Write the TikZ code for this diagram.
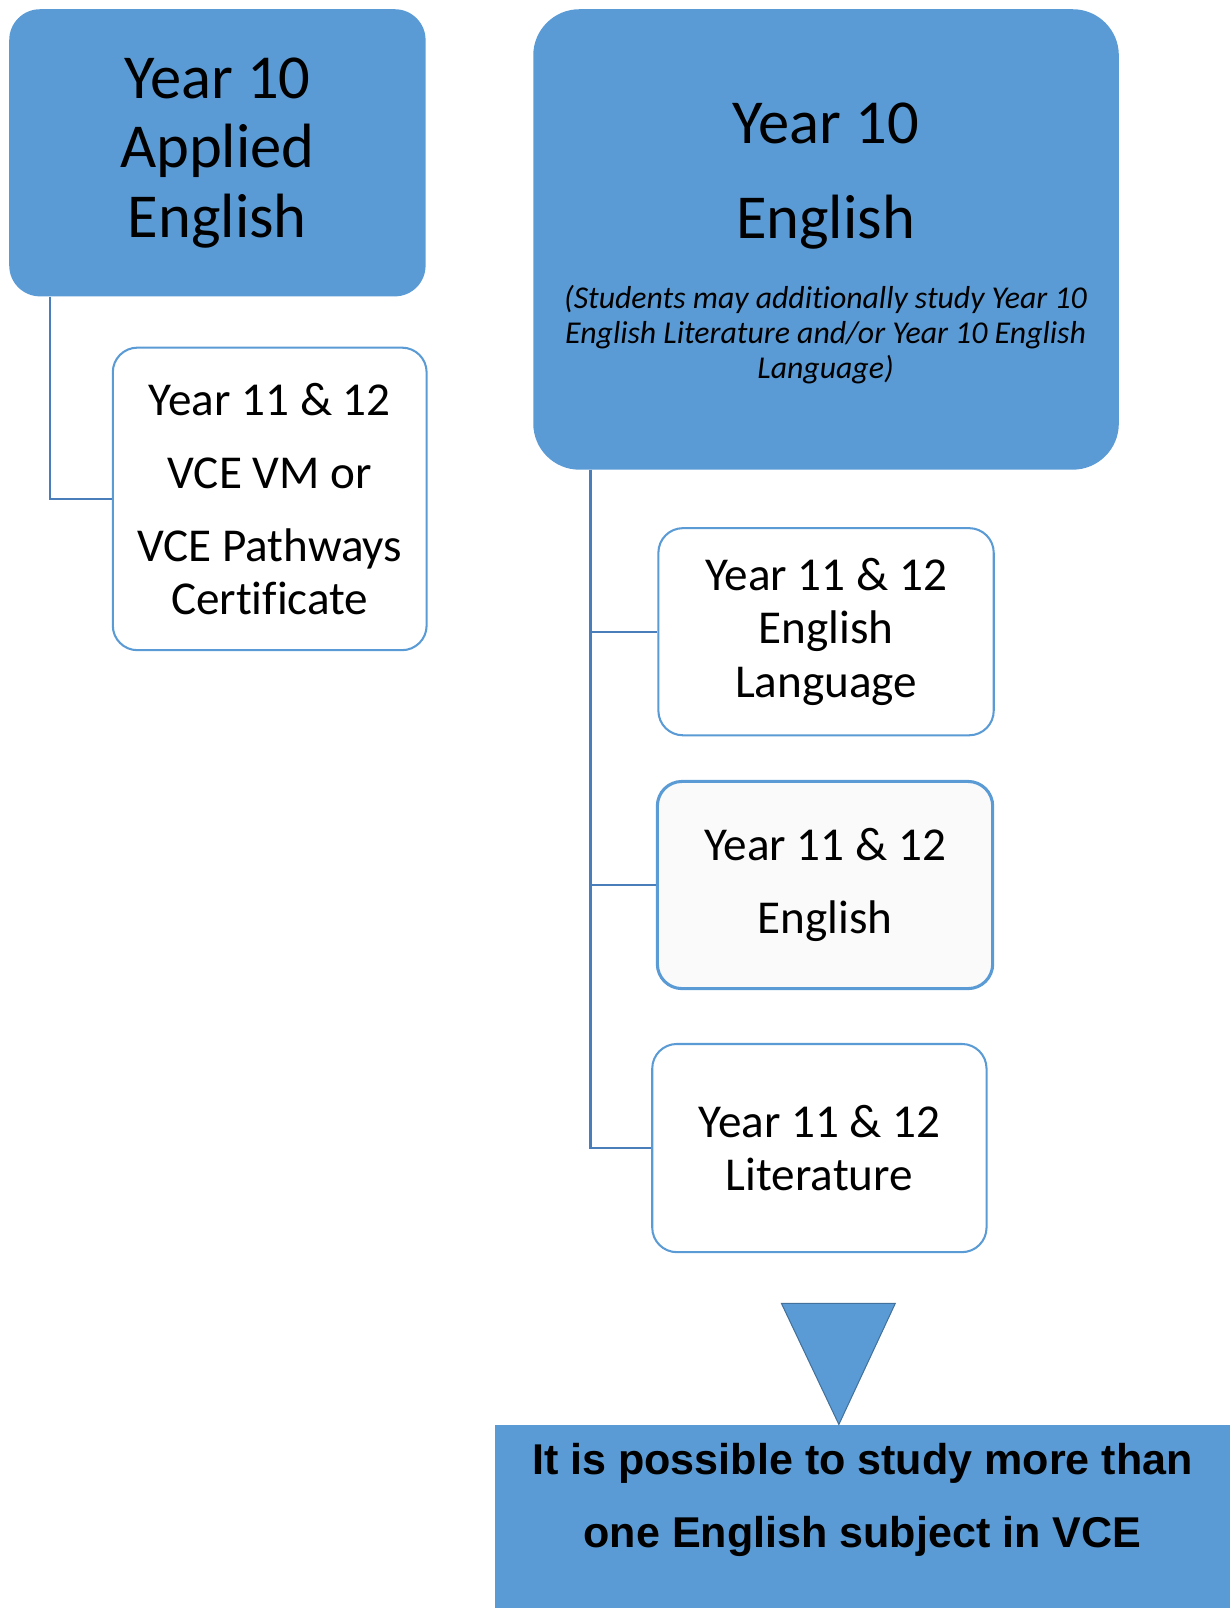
\documentclass[tikz,border=0pt]{standalone}
\usepackage{fontspec}
\setmainfont{Carlito}[Ligatures=NoCommon]
\newfontfamily\arialfont{Liberation Sans}
\usetikzlibrary{positioning,calc}
\definecolor{boxblue}{HTML}{5B9BD5}
\definecolor{linkblue}{HTML}{4A7EBB}
\definecolor{edgeblue}{HTML}{41719C}
\newcommand{\bigfont}{\fontsize{61}{68}\selectfont}
\newcommand{\midfont}{\fontsize{46}{52}\selectfont}
\newcommand{\notefont}{\fontsize{31}{34}\selectfont\itshape}

\begin{document}
\begin{tikzpicture}[
    x=1pt, y=-1pt,
    year/.style={rectangle, rounded corners=30pt, fill=boxblue, draw=none, align=center, font=\bigfont, inner sep=0pt},
    vce/.style={rectangle, rounded corners=24pt, fill=white, draw=boxblue, line width=2pt, align=center, font=\midfont, inner sep=0pt, minimum width=327pt, minimum height=202pt},
    link/.style={draw=linkblue, line width=2pt}
]
    \useasboundingbox (0,0) rectangle (1199,1568);

    % Year 10 boxes
    \node[year, minimum width=406pt, minimum height=280pt, text depth=10pt] (app10) at (212,149) {Year 10\\Applied\\English};
    \node[year, rounded corners=45pt, minimum width=571pt, minimum height=449pt] (eng10) at (805.5,233.5) {};
    \node[font=\bigfont, align=center, inner sep=0pt] (eng10t) at (805,172) {Year 10\\[25pt]English};
    \node[font=\notefont, align=center, inner sep=0pt] (eng10n) at (805,326) {(Students may additionally study Year 10\\English Literature and/or Year 10 English\\Language)};

    % Year 11 & 12 boxes
    \node[vce, minimum width=306pt, minimum height=295pt] (vm) at (263,486.5) {Year 11 \& 12\\[19pt]VCE VM or\\[19pt]VCE Pathways\\Certificate};
    \node[vce] (lang) at (805.5,616) {Year 11 \& 12\\English\\Language};
    \node[vce, fill=black!2, line width=3pt] (eng) at (804.5,863) {Year 11 \& 12\\[19pt]English};
    \node[vce, minimum width=326pt, minimum height=203pt] (lit) at (799,1119.5) {Year 11 \& 12\\Literature};

    % connectors
    \draw[link] ($(app10.south west)+(40,0)$) |- (vm.west);
    \coordinate (trunk) at ($(eng10.south west)+(56,0)$);
    \draw[link] (trunk) |- (lang.west);
    \draw[link] (trunk) |- (eng.west);
    \draw[link] (trunk) |- (lit.west);

    % summary
    \node[rectangle, fill=boxblue, minimum width=716pt, minimum height=178pt, align=center, inner sep=0pt, text depth=41pt,
        font=\arialfont\bfseries\fontsize{42}{71}\selectfont] (summary) at (841,1479) {It is possible to study more than\\one English subject in VCE};
    \coordinate (tip) at (818,1389);
    \draw[fill=boxblue, draw=edgeblue, line width=1pt] (762,1271) -- (873,1271) -- (tip) -- cycle;
\end{tikzpicture}
\end{document}
